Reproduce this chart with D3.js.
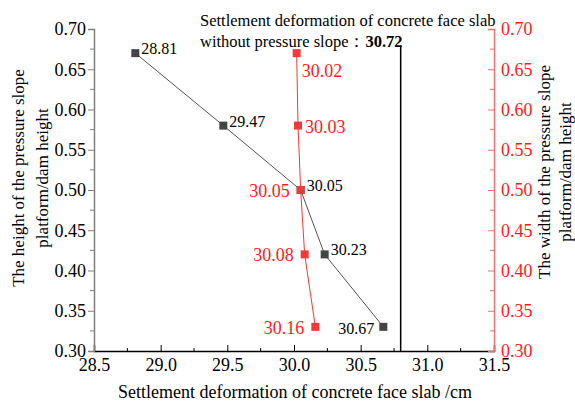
<!DOCTYPE html>
<html><head><meta charset="utf-8">
<script src="https://cdn.jsdelivr.net/npm/d3@7"></script>
<style>body{margin:0;background:#fff}svg text{font-family:"Liberation Serif","Times New Roman",serif !important}</style>
</head><body><svg id="c" width="575" height="404"></svg>
<script>
const heightRatio = [0.67, 0.58, 0.50, 0.42, 0.33];
const settleHeight = [28.81, 29.47, 30.05, 30.23, 30.67];
const widthRatio = [0.67, 0.58, 0.50, 0.42, 0.33];
const settleWidth = [30.02, 30.03, 30.05, 30.08, 30.16];
const baselineValue = 30.72;
const baselineLineX = 30.8;
const xTicks = [28.5, 29.0, 29.5, 30.0, 30.5, 31.0, 31.5];
const yTicks = [0.30, 0.35, 0.40, 0.45, 0.50, 0.55, 0.60, 0.65, 0.70];
const blackLabelPos = ["r", "r", "r", "r", "l"];
const redLabelPos = ["br", "r", "l", "l", "l"];

const svg = d3.select("#c");
const L = 94, R = 494, T = 29, B = 351;
const x = d3.scaleLinear().domain([28.5, 31.5]).range([L, R]);
const yL = d3.scaleLinear().domain([0.30, 0.70]).range([B, T]);
const yR = d3.scaleLinear().domain([0.30, 0.70]).range([B, T]);
const red = "#ff1a1a", redAxis = "#f07070";

const xMinor = d3.range(28.75, 31.5, 0.5);
const yMinor = d3.range(0.325, 0.7, 0.05);

// bottom axis
const gx = svg.append("g").attr("transform", `translate(0,${B})`)
  .call(d3.axisBottom(x).tickValues(xTicks).tickFormat(d3.format(".1f")).tickSize(-6).tickPadding(7));
gx.select(".domain").attr("stroke", "#000").attr("stroke-width", 1.5);
gx.selectAll(".tick line").attr("stroke", "#000");
gx.selectAll("text").attr("font-size", 18).attr("fill", "#000");
svg.append("g").selectAll("line").data(xMinor).join("line")
  .attr("x1", d => x(d)).attr("x2", d => x(d)).attr("y1", B).attr("y2", B - 3).attr("stroke", "#000");

// left axis
const gy = svg.append("g").attr("transform", `translate(${L},0)`)
  .call(d3.axisLeft(yL).tickValues(yTicks).tickFormat(d3.format(".2f")).tickSize(6).tickPadding(2));
gy.select(".domain").attr("stroke", "#808080").attr("stroke-width", 1.5);
gy.selectAll(".tick line").attr("stroke", "#808080");
gy.selectAll("text").attr("font-size", 18).attr("fill", "#000");
svg.append("g").selectAll("line").data(yMinor).join("line")
  .attr("x1", L).attr("x2", L - 4).attr("y1", d => yL(d)).attr("y2", d => yL(d)).attr("stroke", "#808080");

// right axis
const gr = svg.append("g").attr("transform", `translate(${R},0)`)
  .call(d3.axisRight(yR).tickValues(yTicks).tickFormat(d3.format(".2f")).tickSize(-6).tickPadding(7));
gr.select(".domain").attr("stroke", redAxis).attr("stroke-width", 1.5);
gr.selectAll(".tick line").attr("stroke", redAxis);
gr.selectAll("text").attr("font-size", 18).attr("fill", red);
svg.append("g").selectAll("line").data(yMinor).join("line")
  .attr("x1", R).attr("x2", R - 4).attr("y1", d => yR(d)).attr("y2", d => yR(d)).attr("stroke", redAxis);

// axis titles
svg.append("text").attr("x", 295).attr("y", 398).attr("text-anchor", "middle")
  .attr("font-size", 18).text("Settlement deformation of concrete face slab /cm");
const lt = svg.append("text").attr("transform", "translate(24,178) rotate(-90)")
  .attr("text-anchor", "middle").attr("font-size", 17);
lt.append("tspan").attr("x", 0).attr("dy", 0).text("The height of the pressure slope");
lt.append("tspan").attr("x", 0).attr("dy", 24).text("platform/dam height");
const rt = svg.append("text").attr("transform", "translate(550,172) rotate(-90)")
  .attr("text-anchor", "middle").attr("font-size", 17);
rt.append("tspan").attr("x", 0).attr("dy", 0).text("The width of the pressure slope");
rt.append("tspan").attr("x", 0).attr("dy", 21).text("platform/dam height");

// baseline vertical line
svg.append("line").attr("x1", x(baselineLineX)).attr("x2", x(baselineLineX))
  .attr("y1", 47).attr("y2", B).attr("stroke", "#000").attr("stroke-width", 1.5);
svg.append("text").attr("x", 200).attr("y", 26).attr("font-size", 16.5)
  .text("Settlement deformation of concrete face slab");
const t2 = svg.append("text").attr("x", 200).attr("y", 47).attr("font-size", 16.5);
t2.append("tspan").text("without pressure slope：");
t2.append("tspan").attr("font-weight", "bold").text(baselineValue.toFixed(2));

// series
const blackData = settleHeight.map((v, i) => ({x: v, y: heightRatio[i], p: blackLabelPos[i]}));
const redData = settleWidth.map((v, i) => ({x: v, y: widthRatio[i], p: redLabelPos[i]}));
const line = (ys) => d3.line().x(d => x(d.x)).y(d => ys(d.y));

svg.append("path").datum(blackData).attr("d", line(yL)).attr("fill", "none").attr("stroke", "#555").attr("stroke-width", 1);
svg.append("path").datum(redData).attr("d", line(yR)).attr("fill", "none").attr("stroke", "#f03a3a").attr("stroke-width", 1);

svg.append("g").selectAll("rect").data(blackData).join("rect")
  .attr("x", d => x(d.x) - 4).attr("y", d => yL(d.y) - 4).attr("width", 8).attr("height", 8).attr("fill", "#444");
svg.append("g").selectAll("rect").data(redData).join("rect")
  .attr("x", d => x(d.x) - 4).attr("y", d => yR(d.y) - 4).attr("width", 8).attr("height", 8).attr("fill", "#f03a3a");

// black labels
svg.append("g").selectAll("text").data(blackData).join("text")
  .attr("font-size", 16).attr("fill", "#000").text(d => d.x.toFixed(2))
  .attr("x", d => d.p === "l" ? x(d.x) - 9 : x(d.x) + 6)
  .attr("y", d => d.p === "l" ? yL(d.y) + 7 : yL(d.y) + 1)
  .attr("text-anchor", d => d.p === "l" ? "end" : "start");
// red labels
svg.append("g").selectAll("text").data(redData).join("text")
  .attr("font-size", 18).attr("fill", red).text(d => d.x.toFixed(2))
  .attr("x", d => d.p === "l" ? x(d.x) - 11 : d.p === "br" ? x(d.x) + 5 : x(d.x) + 7)
  .attr("y", d => d.p === "br" ? yR(d.y) + 24 : yR(d.y) + 7)
  .attr("text-anchor", d => d.p === "l" ? "end" : "start");
</script></body></html>
